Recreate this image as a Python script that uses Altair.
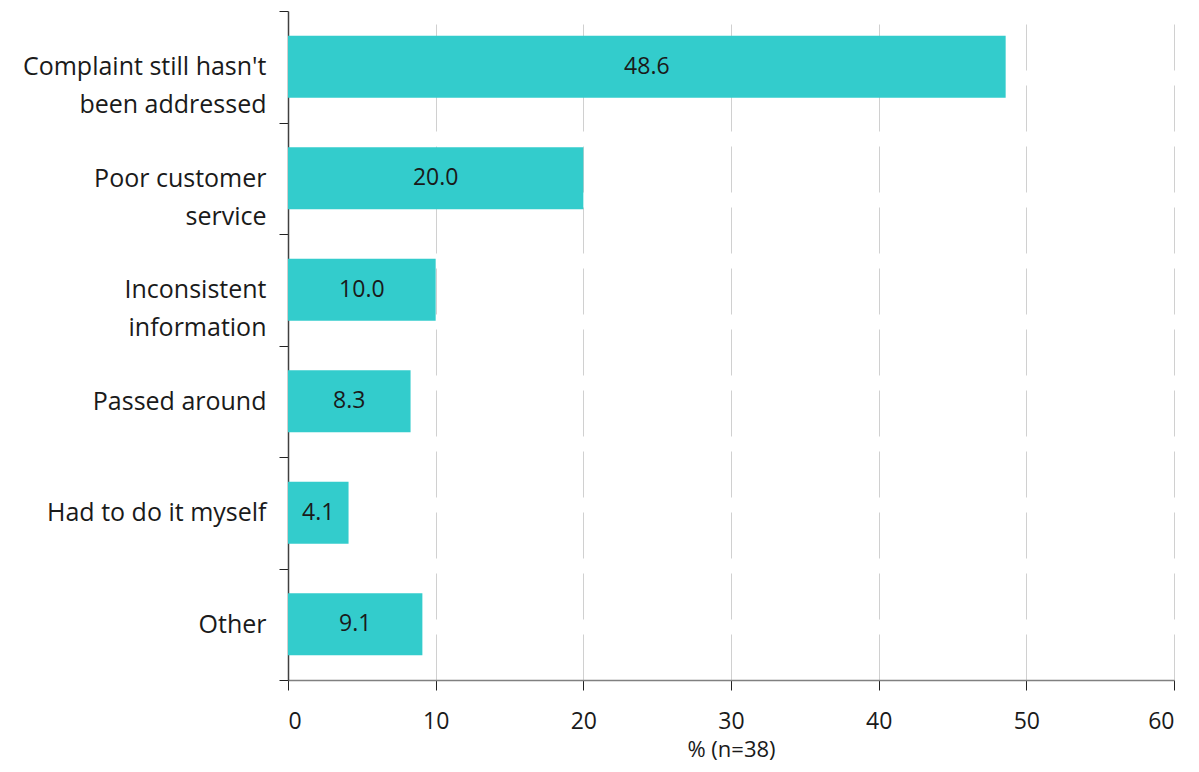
import altair as alt
import pandas as pd

categories = [
    "Complaint still hasn't\nbeen addressed",
    "Poor customer\nservice",
    "Inconsistent\ninformation",
    "Passed around",
    "Had to do it myself",
    "Other",
]
values = [48.6, 20.0, 10.0, 8.3, 4.1, 9.1]
x_ticks = [0, 10, 20, 30, 40, 50, 60]

df = pd.DataFrame({"cat": categories, "val": values})
df["label"] = df["val"].map(lambda v: f"{v:.1f}")
df["mid"] = df["val"] / 2

FONT = "Open Sans"
TEAL = "#33CCCC"

y_enc = alt.Y(
    "cat:N",
    sort=categories,
    title=None,
    scale=alt.Scale(paddingInner=0, paddingOuter=0),
    axis=alt.Axis(
        labelExpr="split(datum.label, '\\n')",
        labelFont=FONT,
        labelFontSize=25,
        labelColor="#1a1a1a",
        labelPadding=13,
        labelLineHeight=38,
        labelLimit=400,
        tickBand="extent",
        tickSize=9,
        tickColor="#222222",
        domainColor="#404040",
        domainWidth=1.5,
        grid=False,
    ),
)

bars = alt.Chart(df).mark_bar(color=TEAL, height={"band": 0.555}).encode(
    x=alt.X(
        "val:Q",
        title="% (n=38)",
        scale=alt.Scale(domain=[0, 60]),
        axis=alt.Axis(
            values=x_ticks,
            labelFont=FONT,
            labelFontSize=23,
            labelColor="#1a1a1a",
            labelPadding=20,
            titleFont=FONT,
            titleFontSize=22,
            titleFontWeight="normal",
            titleColor="#1a1a1a",
            titlePadding=6,
            tickSize=10,
            tickColor="#222222",
            domainColor="#808080",
            domainWidth=1.5,
            gridColor="#d0d0d0",
            gridDash=[46, 15],
            gridWidth=1,
        ),
    ),
    y=y_enc,
)

texts = alt.Chart(df).mark_text(
    font=FONT, fontSize=23, color="#1a1a1a", align="center", baseline="middle"
).encode(
    x=alt.X("mid:Q"),
    y=alt.Y("cat:N", sort=categories),
    text="label:N",
)

chart = (
    alt.layer(bars, texts)
    .properties(
        width=886,
        height=669,
        autosize=alt.AutoSizeParams(type="none"),
        padding={"left": 280, "top": 3, "right": 17, "bottom": 84},
    )
    .configure_view(stroke=None)
)

chart.save("out.html", embed_options={"renderer": "svg", "actions": False})
